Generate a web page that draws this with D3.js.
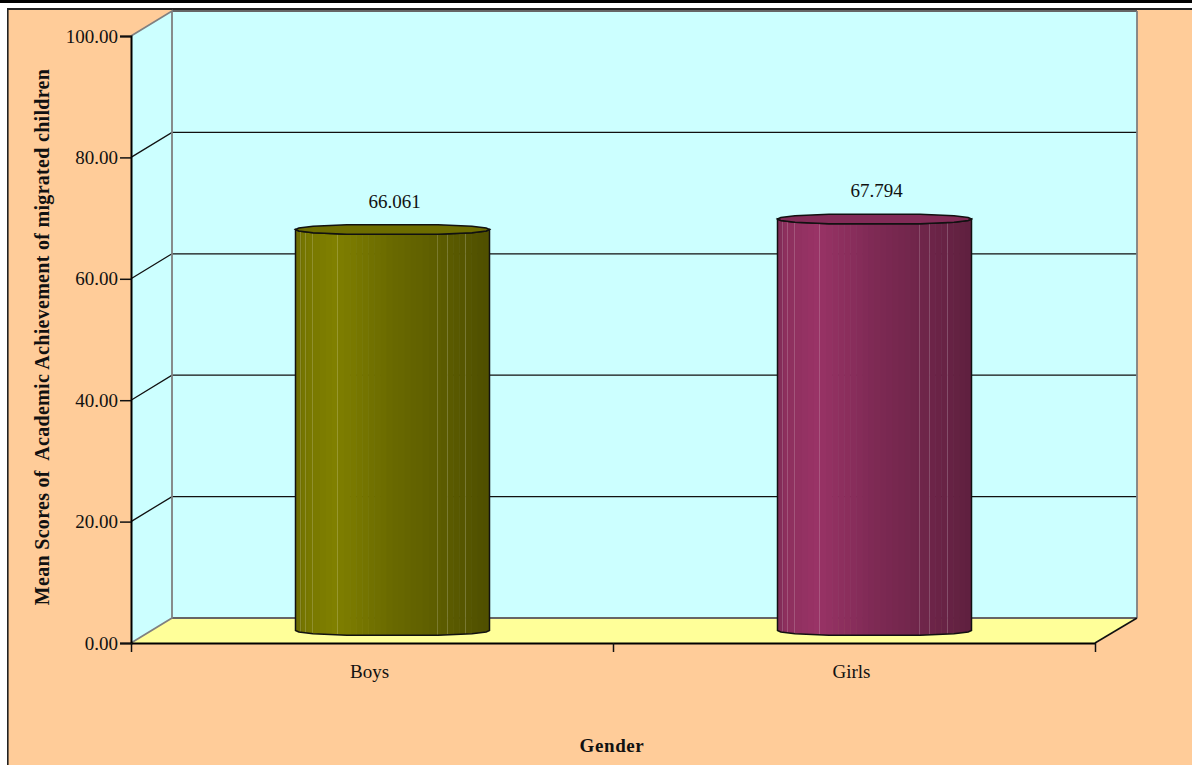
<!DOCTYPE html>
<html><head><meta charset="utf-8">
<script src="https://cdn.jsdelivr.net/npm/d3@7"></script>
<style>html,body{margin:0;padding:0;background:#fff}svg{display:block}text{font-family:"Liberation Serif",serif;fill:#111}</style>
</head><body>
<svg id="c" width="1192" height="765"></svg>
<script>
const categories = ["Boys", "Girls"];
const values = [66.061, 67.794];
const valueLabels = ["66.061", "67.794"];
const yTicks = [0, 20, 40, 60, 80, 100];
const barColors = ["#808000", "#993366"];
const xTitle = "Gender";
const yTitle = "Mean Scores of  Academic Achievement of migrated children";

const svg = d3.select("#c");
const plot = {l:131, r:1095, t:36, b:643, dx:41, dy:-25};
const y = d3.scaleLinear().domain([0,100]).range([plot.b, plot.t]);
const x = d3.scaleBand().domain(categories).range([plot.l, plot.r]);
const barW = 194, ry = 5.5;

svg.append("rect").attr("width",1192).attr("height",3).attr("fill","#000");
svg.append("rect").attr("x",7).attr("y",8).attr("width",1185).attr("height",757).attr("fill","#FFCC99");
svg.append("rect").attr("x",7).attr("y",8).attr("width",1185).attr("height",2).attr("fill","#222");
svg.append("rect").attr("x",7).attr("y",8).attr("width",1.6).attr("height",757).attr("fill","#222");

const poly = pts => "M" + pts.map(p=>p.join(",")).join("L") + "Z";
const {l,r,dx,dy} = plot;
// walls and floor
svg.append("path").attr("fill","#CCFFFF").attr("d",poly([[l,y(100)],[l+dx,y(100)+dy],[l+dx,y(0)+dy],[l,y(0)]]));
svg.append("path").attr("fill","#CCFFFF").attr("d",poly([[l+dx,y(100)+dy],[r+dx+1,y(100)+dy],[r+dx+1,y(0)+dy],[l+dx,y(0)+dy]]));
svg.append("path").attr("fill","#FFFF99").attr("d",poly([[l,y(0)],[l+dx,y(0)+dy],[r+dx+1,y(0)+dy],[r,y(0)]]));

// gridlines
yTicks.filter(t=>t>0&&t<100).forEach(t=>{
  svg.append("path").attr("fill","none").attr("stroke","#111").attr("stroke-width",1.3)
    .attr("d",`M${l},${y(t)}L${l+dx},${y(t)+dy}L${r+dx+1},${y(t)+dy}`);
});
// wall edges
svg.append("path").attr("fill","none").attr("stroke","#666").attr("stroke-width",2)
  .attr("d",`M${l+dx},${y(0)+dy}L${r+dx+1},${y(0)+dy}M${l+dx},${y(100)+dy}L${r+dx+1},${y(100)+dy}`);
svg.append("path").attr("fill","none").attr("stroke","#808080").attr("stroke-width",1.8)
  .attr("d",`M${l},${y(100)}L${l+dx},${y(100)+dy}L${l+dx},${y(0)+dy}L${l},${y(0)}M${r+dx+1},${y(100)+dy}L${r+dx+1},${y(0)+dy}`);
svg.append("path").attr("fill","none").attr("stroke","#111").attr("stroke-width",1.6)
  .attr("d",`M${r},${y(0)}L${r+dx+1},${y(0)+dy}`);

// axes
const yAxis = svg.append("g").attr("transform",`translate(${l},0)`)
  .call(d3.axisLeft(y).tickValues(yTicks).tickFormat(d3.format(".2f")).tickSize(11).tickPadding(2));
const xEdges = d3.scaleLinear().domain([0,categories.length]).range([l,r]);
const xAxis = svg.append("g").attr("transform",`translate(0,${plot.b})`)
  .call(d3.axisBottom(xEdges).tickValues(d3.range(categories.length+1)).tickFormat("").tickSize(9).tickSizeOuter(0));
[yAxis,xAxis].forEach(g=>{
  g.selectAll("path.domain").attr("stroke","#000").attr("stroke-width",2);
  g.selectAll("line").attr("stroke","#111").attr("stroke-width",1.5);
});
yAxis.selectAll("text").attr("font-size",19).attr("font-family","Liberation Serif").attr("fill","#111");

// cylinders: faceted outline like the source's low-resolution cylinder
const facetDeg = [0,15,35,62,118,145,165,180];
const rad = d => d*Math.PI/180;
const pt = (cx,cy,d) => [cx+barW/2*Math.cos(rad(d)), cy+ry*Math.sin(rad(d))];
const frontEdge = (cx,cy) => facetDeg.map(d=>pt(cx,cy,d));
const backEdge = (cx,cy) => facetDeg.slice(1,-1).map(d=>pt(cx,cy,-d)).reverse();
const strips = 32;
const highlights = [5,10,17,42,142,152,170];

categories.forEach((c,i)=>{
  const cx = x(c)+x.bandwidth()/2+dx/2, v=values[i];
  const yTop = y(v)+dy/2, yBot = y(0)+dy/2;
  const base = d3.color(barColors[i]);
  const shade = d3.scaleLinear().domain([0,.04,.2,.5,1])
    .range([base.darker(.55),base.darker(.25),base,base.darker(.55),base.darker(1.35)].map(String));
  const left = cx-barW/2;
  const clipId = "cyl"+i;
  const topFront = frontEdge(cx,yTop);
  const body = "M"+topFront.slice().reverse().map(p=>p.join(",")).join("L")
     +"L"+frontEdge(cx,yBot).map(p=>p.join(",")).join("L")+"Z";
  svg.append("clipPath").attr("id",clipId).append("path").attr("d",body);
  const g = svg.append("g").attr("clip-path",`url(#${clipId})`);
  d3.range(strips).forEach(k=>{
    g.append("rect").attr("x",left+k*barW/strips).attr("y",yTop-ry)
      .attr("width",barW/strips+.6).attr("height",yBot-yTop+2*ry+1)
      .attr("fill",shade((k+.5)/strips));
  });
  highlights.forEach(h=>{
    g.append("line").attr("x1",left+h).attr("x2",left+h).attr("y1",yTop-ry).attr("y2",yBot+ry)
      .attr("stroke","#fff").attr("stroke-opacity",.18).attr("stroke-width",1);
  });
  svg.append("path").attr("d",body).attr("fill","none").attr("stroke","#111").attr("stroke-width",1.5);
  svg.append("path").attr("d",poly(topFront.concat(backEdge(cx,yTop)))).attr("fill",base.darker(.45)).attr("stroke","#111").attr("stroke-width",1.5);
  svg.append("text").attr("x",cx+2).attr("y",yTop-22).attr("text-anchor","middle").attr("font-size",19).text(valueLabels[i]);
  svg.append("text").attr("x",x(c)+x.bandwidth()/2-2.5).attr("y",678).attr("text-anchor","middle").attr("font-size",19).text(c);
});

svg.append("text").attr("x",612).attr("y",752).attr("text-anchor","middle").attr("font-size",19).attr("font-weight","bold").attr("letter-spacing","0.6").text(xTitle);
svg.append("text").attr("transform","translate(49,337) rotate(-90)").attr("text-anchor","middle").attr("font-size",20).attr("font-weight","bold").attr("letter-spacing","0.3").style("white-space","pre").text(yTitle);
</script>
</body></html>
